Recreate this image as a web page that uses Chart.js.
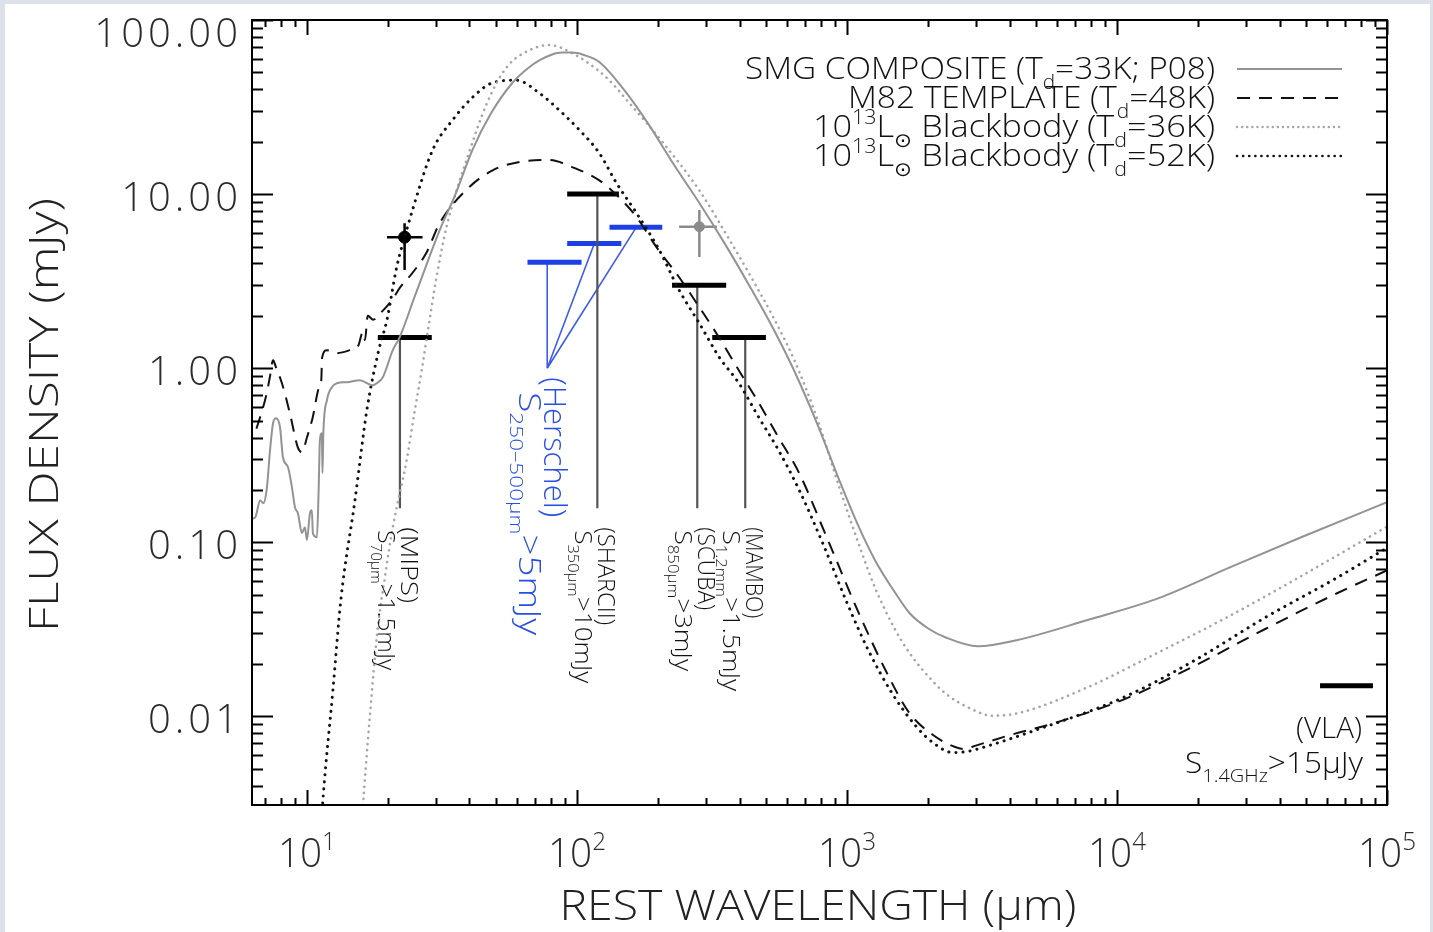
<!DOCTYPE html>
<html>
<head>
<meta charset="utf-8">
<title>SMG SED templates</title>
<script src="https://cdn.jsdelivr.net/npm/chart.js@4.4.1/dist/chart.umd.min.js"></script>
<style>
  html, body { margin: 0; padding: 0; background: #fff; overflow: hidden; }
  canvas { display: block; }
</style>
</head>
<body>
<canvas id="sedChart" width="1433" height="932"></canvas>
<script>
// SMG composite (grey solid)
const smgWave = [6.0, 6.43, 6.71, 6.9, 7.11, 7.30, 7.49, 7.68, 7.95, 8.15, 8.51, 8.80, 9.03, 9.26, 9.58, 9.83, 10.0, 10.26, 10.43, 10.52, 10.89, 11.05, 11.17, 11.36, 11.42, 11.50, 11.86, 12.37, 12.91, 14.06, 15.70, 17.54, 18.15, 19.10, 20.80, 22.07, 25.0, 28.0, 31.0, 35.5, 41.0, 48.0, 57.7, 66.0, 72.8, 80.0, 88.0, 96.0, 106, 121, 150, 185, 229, 284, 350, 434, 530, 637, 780, 934, 1100, 1270, 1500, 1710, 2000, 2323, 3050, 4250, 7780, 14360, 26300, 48100, 100000];
const smgFlux = [0.135, 0.139, 0.174, 0.168, 0.207, 0.338, 0.483, 0.516, 0.458, 0.308, 0.270, 0.207, 0.159, 0.147, 0.113, 0.122, 0.103, 0.147, 0.153, 0.113, 0.107, 0.20, 0.386, 0.423, 0.25, 0.42, 0.655, 0.778, 0.82, 0.831, 0.853, 0.798, 0.82, 0.888, 1.27, 1.51, 2.55, 4.1, 6.2, 10.0, 17.9, 29.0, 43.6, 53.0, 58.8, 63.0, 65.0, 65.0, 63, 57.4, 39.4, 24.9, 14.7, 8.9, 5.3, 3.0, 1.72, 0.97, 0.47, 0.23, 0.125, 0.079, 0.052, 0.039, 0.032, 0.0284, 0.0253, 0.0274, 0.0358, 0.048, 0.072, 0.107, 0.17];

// M82 template (black dashed)
const m82Wave = [6.5, 6.8, 7.1, 7.3, 7.49, 7.7, 8.08, 8.65, 9.26, 9.6, 10.0, 10.5, 11.1, 11.3, 11.38, 11.85, 12.9, 14.4, 15.5, 16.1, 16.4, 16.8, 17.6, 18.6, 20.8, 22.1, 24.5, 27.7, 31, 39, 48.7, 61.3, 79, 96, 121, 143, 166, 197, 239, 284, 336, 398, 472, 558, 665, 857, 1100, 1400, 1700, 2090, 2500, 2710, 3000, 4000, 5780, 10570, 19350, 35700, 65300, 100000];
const m82Flux = [0.45, 0.56, 0.72, 0.9, 1.11, 1.0, 0.82, 0.55, 0.35, 0.33, 0.40, 0.52, 0.78, 0.85, 1.15, 1.27, 1.22, 1.27, 1.35, 1.61, 1.45, 2.0, 1.9, 2.05, 2.5, 2.9, 3.5, 4.6, 6.8, 10.6, 13.7, 15.3, 15.7, 14.3, 12.0, 9.6, 7.4, 4.96, 3.33, 2.24, 1.5, 0.97, 0.63, 0.40, 0.25, 0.10, 0.04, 0.018, 0.0105, 0.0078, 0.0067, 0.0065, 0.0068, 0.0078, 0.0091, 0.0125, 0.0195, 0.032, 0.051, 0.069];

// 10^13 Lsun blackbody, Td = 36K (grey dotted)
const bb36Wave = [15.6, 16.5, 17.1, 18.2, 19.5, 20.8, 23.4, 25.1, 26.6, 27.8, 30.2, 32.9, 35.5, 39, 46.3, 54.9, 66.6, 79, 96, 128, 160, 207, 284, 350, 434, 530, 637, 780, 934, 1100, 1270, 1500, 1710, 2000, 2323, 2900, 3436, 4250, 7780, 14360, 26300, 48100, 100000];
const bb36Flux = [0.0015, 0.005, 0.01, 0.03, 0.065, 0.122, 0.296, 0.574, 0.97, 1.5, 3.33, 6.5, 10, 15.7, 33, 53.5, 67, 71.8, 64.5, 47, 32, 20, 10.5, 6.2, 3.5, 2.0, 1.12, 0.5, 0.21, 0.1, 0.055, 0.032, 0.023, 0.017, 0.0135, 0.011, 0.0101, 0.0104, 0.0147, 0.0235, 0.038, 0.064, 0.123];

// 10^13 Lsun blackbody, Td = 52K (black dotted)
const bb52Wave = [11.1, 11.46, 12.48, 13.35, 15.06, 16.67, 18.45, 19.78, 21.5, 23.4, 24.6, 29.2, 34.6, 41.1, 48.7, 59.7, 72.6, 86.1, 102, 121, 140, 166, 202, 239, 284, 336, 398, 472, 558, 665, 822, 1000, 1200, 1473, 1800, 2100, 2466, 2800, 3150, 4950, 10500, 19400, 35400, 65700, 100000];
const bb52Flux = [0.0015, 0.0033, 0.0141, 0.0464, 0.174, 0.574, 1.27, 1.89, 3.8, 6.2, 8.1, 17.9, 26.6, 36, 43.6, 45.1, 38, 30.3, 23.4, 17.2, 11.6, 7.8, 4.76, 2.81, 1.81, 1.16, 0.82, 0.52, 0.338, 0.2, 0.095, 0.045, 0.024, 0.0135, 0.0088, 0.007, 0.0062, 0.0063, 0.0066, 0.0083, 0.0128, 0.021, 0.037, 0.063, 0.093];

// survey flux limits (thick black bars, grey drop lines)
const limitNames = ['MIPS', 'SHARCII', 'SCUBA', 'MAMBO', 'VLA'];
const limitWave = [22.1, 119, 279, 420, null];
const limitLo = [18.3, 92, 225, 317, 56500];
const limitHi = [29, 143, 357, 501, 88700];
const limitFlux = [1.5, 10, 3, 1.5, 0.015];
const limitFoot = 0.157;
const limitBands = ['70μm', '350μm', '850μm', '1.2mm', '1.4GHz'];
const limitCuts = ['>1.5mJy', '>10mJy', '>3mJy', '>1.5mJy', '>15μJy'];

// detections with error bars (MIPS black, SCUBA grey)
const detWave = [23.0, 284];
const detFlux = [5.66, 6.5];
const detWaveLo = [19.8, 239];
const detWaveHi = [26.8, 330];
const detFluxLo = [3.66, 4.35];
const detFluxHi = [6.8, 8.1];

// Herschel 250-500um limits (blue)
const herschelWave = [116, 166];
const herschelLo = [65.6, 92, 132];
const herschelHi = [104, 146, 207];
const herschelFlux = [4.06, 5.2, 6.46];
const herschelRootWave = 77.6;
const herschelRootFlux = 1.0;

// axes
const xMin = 6.26, xMax = 1e5, yMin = 0.0031, yMax = 100;
const yTicks = [0.01, 0.1, 1, 10, 100];
const yTickLabels = ['0.01', '0.10', '1.00', '10.00', '100.00'];
const xTicks = [10, 100, 1000, 10000, 100000];
const xTickPowers = ['1', '2', '3', '4', '5'];

const TEXTFONT = "'Open Sans','DejaVu Sans',sans-serif";

function pts(xs, ys) {
    return xs.map((x, i) => ({ x, y: ys[i] }));
}

// join 2-point segments into one dataset, broken by null gaps
function segments(list) {
    const out = [];
    list.forEach((s, i) => {
        if (i) out.push({ x: s[0].x, y: null });
        out.push(s[0], s[1]);
    });
    return out;
}

function logTicks(min, max) {
    const out = [];
    for (let e = Math.floor(Math.log10(min)); e <= Math.ceil(Math.log10(max)); e++) {
        for (let m = 1; m <= 9; m++) {
            const v = m * Math.pow(10, e);
            if (v >= min * 0.999 && v <= max * 1.001) out.push({ v, major: m === 1 });
        }
    }
    return out;
}

// text made of plain / sub / sup parts, optionally stretched to a width and rotated
function richText(ctx, parts, x, y, o) {
    const size = o.size;
    const fontFor = k => '300 ' + (k ? Math.round(size * 0.62) : size) + 'px ' + TEXTFONT;
    let w = 0;
    parts.forEach(([t, k]) => { ctx.font = fontFor(k); w += ctx.measureText(t).width; });
    const sx = o.width ? o.width / w : 1;
    ctx.save();
    ctx.translate(x, y);
    if (o.rotate) ctx.rotate(o.rotate);
    ctx.scale(sx, 1);
    let cx = o.align === 'right' ? -w : o.align === 'center' ? -w / 2 : 0;
    ctx.fillStyle = o.color || '#1a1a1a';
    ctx.textBaseline = 'alphabetic';
    ctx.textAlign = 'left';
    parts.forEach(([t, k]) => {
        ctx.font = fontFor(k);
        const dy = k === 'sub' ? size * 0.3 : k === 'sup' ? -size * 0.42 : 0;
        ctx.fillText(t, cx, dy);
        cx += ctx.measureText(t).width;
    });
    ctx.restore();
}

const legendRows = [
    { parts: [['SMG COMPOSITE (T'], ['d', 'sub'], ['=33K; P08)']], width: 470, color: '#939393', lw: 2, dash: [] },
    { parts: [['M82 TEMPLATE (T'], ['d', 'sub'], ['=48K)']], width: 367, color: '#111', lw: 2, dash: [13, 9] },
    { parts: [['10'], ['13', 'sup'], ['L'], ['⊙', 'sub'], [' Blackbody (T'], ['d', 'sub'], ['=36K)']], width: 402, color: '#a6a6a6', lw: 2.4, dash: [0.1, 5], cap: 'round' },
    { parts: [['10'], ['13', 'sup'], ['L'], ['⊙', 'sub'], [' Blackbody (T'], ['d', 'sub'], ['=52K)']], width: 402, color: '#111', lw: 2.6, dash: [0.1, 6], cap: 'round' }
];

// label lengths (px) for the survey notes: [name, note]
const noteLengths = [[76, 140], [98, 153], [83, 141], [91, 161], [66, 178]];

const idlAxes = {
    id: 'idlAxes',
    beforeDraw(chart) {
        const { ctx, width, height } = chart;
        ctx.save();
        ctx.fillStyle = '#ffffff';
        ctx.fillRect(0, 0, width, height);
        ctx.fillStyle = '#dde2ea';
        ctx.fillRect(0, 0, width, 4);
        ctx.fillRect(0, 0, 5, height);
        ctx.fillRect(width - 3, 0, 3, height);
        ctx.restore();
    },
    afterDraw(chart) {
        const { ctx, chartArea: a } = chart;
        const xs = chart.scales.x, ys = chart.scales.y;
        ctx.save();

        // frame + inward ticks on all four sides
        ctx.strokeStyle = '#000';
        ctx.lineWidth = 2;
        ctx.strokeRect(a.left, a.top, a.right - a.left, a.bottom - a.top);
        ctx.beginPath();
        logTicks(yMin, yMax).forEach(t => {
            const py = Math.round(ys.getPixelForValue(t.v)) + 0.5;
            const len = t.major ? 21 : 11;
            ctx.moveTo(a.left, py); ctx.lineTo(a.left + len, py);
            ctx.moveTo(a.right, py); ctx.lineTo(a.right - len, py);
        });
        logTicks(xMin, xMax).forEach(t => {
            const px = Math.round(xs.getPixelForValue(t.v)) + 0.5;
            const len = t.major ? 15 : 7;
            ctx.moveTo(px, a.bottom); ctx.lineTo(px, a.bottom - len);
            ctx.moveTo(px, a.top); ctx.lineTo(px, a.top + len);
        });
        ctx.stroke();

        // tick labels
        ctx.fillStyle = '#2b2b2b';
        ctx.textAlign = 'right';
        ctx.textBaseline = 'alphabetic';
        ctx.font = '300 40px ' + TEXTFONT;
        ctx.letterSpacing = '4px';
        yTicks.forEach((v, i) => {
            const py = ys.getPixelForValue(v);
            ctx.fillText(yTickLabels[i], 242, Math.max(py + 17, 47));
        });
        ctx.letterSpacing = '0px';
        xTicks.forEach((v, i) => {
            const px = xs.getPixelForValue(v);
            richText(ctx, [['10'], [xTickPowers[i], 'sup']], px, 867,
                { size: 40, align: 'center', width: 58, color: '#2b2b2b' });
        });

        // axis titles
        richText(ctx, [['REST WAVELENGTH (μm)']], 818, 920, { size: 43, align: 'center', width: 517, color: '#222' });
        richText(ctx, [['FLUX DENSITY (mJy)']], 58, 632, { size: 40, rotate: -Math.PI / 2, width: 434, color: '#222' });

        // legend
        legendRows.forEach((r, i) => {
            const base = 79 + i * 29;
            richText(ctx, r.parts, 1215, base, { size: 32, align: 'right', width: r.width, color: '#111' });
            ctx.save();
            ctx.strokeStyle = r.color;
            ctx.lineWidth = r.lw;
            ctx.lineCap = r.cap || 'butt';
            ctx.setLineDash(r.dash);
            ctx.beginPath();
            ctx.moveTo(1237, base - 10);
            ctx.lineTo(1342, base - 10);
            ctx.stroke();
            ctx.restore();
        });

        // rotated survey notes under the drop lines
        const footY = ys.getPixelForValue(limitFoot);
        limitNames.forEach((name, i) => {
            if (limitWave[i] == null) return;
            const lx = xs.getPixelForValue(limitWave[i]);
            richText(ctx, [['(' + name + ')']], lx + 1, footY + 19,
                { size: 24, rotate: Math.PI / 2, width: noteLengths[i][0], color: '#111' });
            richText(ctx, [['S'], [limitBands[i], 'sub'], [limitCuts[i]]], lx - 22, footY + 22,
                { size: 24, rotate: Math.PI / 2, width: noteLengths[i][1], color: '#111' });
        });

        // VLA note (horizontal, right aligned)
        richText(ctx, [['(VLA)']], 1362, 738, { size: 30, align: 'right', width: noteLengths[4][0], color: '#111' });
        richText(ctx, [['S'], [limitBands[4], 'sub'], [limitCuts[4]]], 1363, 773,
            { size: 30, align: 'right', width: noteLengths[4][1], color: '#111' });

        // Herschel note (blue, rotated)
        const hx = xs.getPixelForValue(herschelRootWave);
        const hy = ys.getPixelForValue(herschelRootFlux);
        richText(ctx, [['(Herschel)']], hx - 3, hy + 9, { size: 31, rotate: Math.PI / 2, width: 140, color: '#2a4fe0' });
        richText(ctx, [['S'], ['250–500μm', 'sub'], ['>5mJy']], hx - 28, hy + 24,
            { size: 31, rotate: Math.PI / 2, width: 243, color: '#2a4fe0' });

        ctx.restore();
    }
};

const lineBase = { pointRadius: 0, pointHoverRadius: 0, fill: false, spanGaps: false };

const limitBars = segments(limitFlux.map((f, i) => [{ x: limitLo[i], y: f }, { x: limitHi[i], y: f }]));
const limitDrops = segments(limitWave.filter(w => w != null)
    .map((w, i) => [{ x: w, y: limitFlux[i] }, { x: w, y: limitFoot }]));
const errBars = i => segments([
    [{ x: detWaveLo[i], y: detFlux[i] }, { x: detWaveHi[i], y: detFlux[i] }],
    [{ x: detWave[i], y: detFluxLo[i] }, { x: detWave[i], y: detFluxHi[i] }]
]);
const herschelBars = segments(herschelFlux.map((f, i) => [{ x: herschelLo[i], y: f }, { x: herschelHi[i], y: f }]));
const herschelLinks = segments([
    [{ x: herschelRootWave, y: herschelFlux[0] }, { x: herschelRootWave, y: herschelRootFlux }],
    [{ x: herschelRootWave, y: herschelRootFlux }, { x: herschelWave[0], y: herschelFlux[1] }],
    [{ x: herschelRootWave, y: herschelRootFlux }, { x: herschelWave[1], y: herschelFlux[2] }]
]);

new Chart(document.getElementById('sedChart'), {
    type: 'line',
    data: {
        datasets: [
            { ...lineBase, label: 'SMG composite', data: pts(smgWave, smgFlux), borderColor: '#939393', borderWidth: 2, cubicInterpolationMode: 'monotone' },
            { ...lineBase, label: 'M82 template', data: pts(m82Wave, m82Flux), borderColor: '#111', borderWidth: 2, borderDash: [13, 9], cubicInterpolationMode: 'monotone' },
            { ...lineBase, label: 'Blackbody 36K', data: pts(bb36Wave, bb36Flux), borderColor: '#a6a6a6', borderWidth: 2.6, borderDash: [0.1, 6], borderCapStyle: 'round', cubicInterpolationMode: 'monotone' },
            { ...lineBase, label: 'Blackbody 52K', data: pts(bb52Wave, bb52Flux), borderColor: '#111', borderWidth: 3, borderDash: [0.1, 7], borderCapStyle: 'round', cubicInterpolationMode: 'monotone' },
            { ...lineBase, label: 'limit bars', data: limitBars, borderColor: '#000', borderWidth: 5 },
            { ...lineBase, label: 'limit drops', data: limitDrops, borderColor: '#555', borderWidth: 2.2 },
            { ...lineBase, label: 'MIPS err', data: errBars(0), borderColor: '#000', borderWidth: 2.5 },
            { ...lineBase, label: 'SCUBA err', data: errBars(1), borderColor: '#8a8a8a', borderWidth: 2.5 },
            { label: 'MIPS det', data: [{ x: detWave[0], y: detFlux[0] }], showLine: false, pointRadius: 6, pointBackgroundColor: '#000', pointBorderColor: '#000' },
            { label: 'SCUBA det', data: [{ x: detWave[1], y: detFlux[1] }], showLine: false, pointRadius: 5, pointBackgroundColor: '#8a8a8a', pointBorderColor: '#8a8a8a' },
            { ...lineBase, label: 'Herschel bars', data: herschelBars, borderColor: '#1d3fe6', borderWidth: 5 },
            { ...lineBase, label: 'Herschel links', data: herschelLinks, borderColor: '#3d5ce9', borderWidth: 1.6 }
        ]
    },
    options: {
        responsive: false,
        animation: false,
        events: [],
        layout: { padding: { left: 252, top: 20, right: 46, bottom: 127 } },
        plugins: { legend: { display: false }, tooltip: { enabled: false }, title: { display: false } },
        scales: {
            x: { type: 'logarithmic', min: xMin, max: xMax, display: false },
            y: { type: 'logarithmic', min: yMin, max: yMax, display: false }
        }
    },
    plugins: [idlAxes]
});
</script>
</body>
</html>
